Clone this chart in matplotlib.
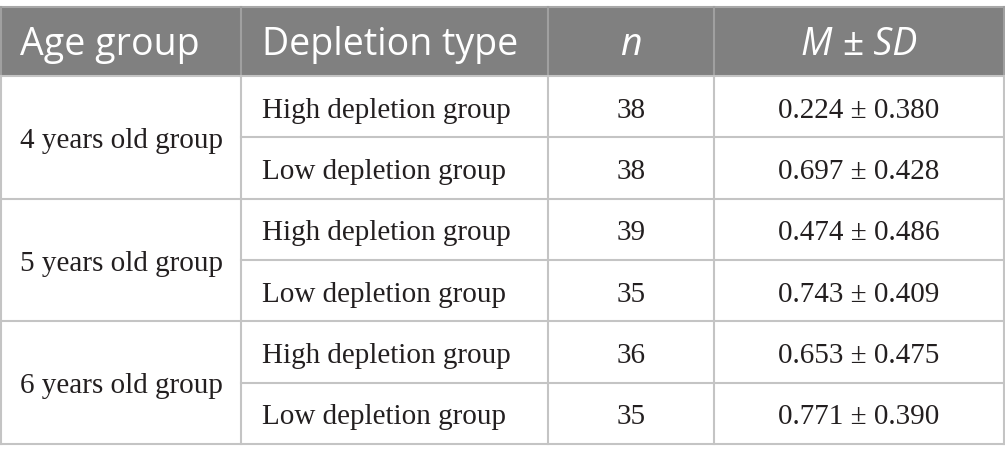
import matplotlib.pyplot as plt
from matplotlib.patches import Rectangle

# table contents
header = ["Age group", "Depletion type", "n", "M ± SD"]
age_groups = ["4 years old group", "5 years old group", "6 years old group"]
depletion_types = ["High depletion group", "Low depletion group"]
n_values = [38, 38, 39, 35, 36, 35]
means = [0.224, 0.697, 0.474, 0.743, 0.653, 0.771]
sds = [0.380, 0.428, 0.486, 0.409, 0.475, 0.390]

W, H = 1005, 464
fig = plt.figure(figsize=(W / 100, H / 100), dpi=100)
ax = fig.add_axes([0, 0, 1, 1])
ax.set_xlim(0, W)
ax.set_ylim(H, 0)
ax.axis('off')

# layout in pixels
col_x = [1, 241, 548, 714, 1004]
top, head_bot = 8, 77
row_h = 61.3
line_col = '#c4c4c4'
head_col = '#808080'

ax.add_patch(Rectangle((col_x[0], top), col_x[-1] - col_x[0], head_bot - top,
                       facecolor=head_col, edgecolor='none'))

hfont = dict(family='Open Sans', fontsize=27, color='white')
bfont = dict(family='Liberation Serif', fontsize=21, color='#231f20')

ax.text(20, 55, header[0], ha='left', va='baseline', **hfont)
ax.text(262, 55, header[1], ha='left', va='baseline', **hfont)
ax.text((col_x[2] + col_x[3]) / 2, 55, header[2], ha='center', va='baseline',
        style='italic', **hfont)
ax.text((col_x[3] + col_x[4]) / 2, 55, header[3], ha='center', va='baseline',
        style='italic', **hfont)

nrows = len(age_groups) * len(depletion_types)
bottom = head_bot + nrows * row_h

# body rows
for i in range(nrows):
    y0 = head_bot + i * row_h
    yc = y0 + row_h / 2
    ax.text(262, yc + 10, depletion_types[i % 2], ha='left', va='baseline', **bfont)
    ax.text((col_x[2] + col_x[3]) / 2, yc + 10, str(n_values[i]), ha='center',
            va='baseline', **bfont)
    ax.text((col_x[3] + col_x[4]) / 2, yc + 10, f"{means[i]:.3f} ± {sds[i]:.3f}",
            ha='center', va='baseline', **bfont)
    # horizontal line under row (full width under group, partial otherwise)
    yl = y0 + row_h
    x_start = col_x[0] if i % 2 == 1 else col_x[1]
    ax.plot([x_start, col_x[-1]], [yl, yl], color=line_col, lw=1.5)

for g, name in enumerate(age_groups):
    yc = head_bot + (2 * g + 1) * row_h
    ax.text(20, yc + 10, name, ha='left', va='baseline', **bfont)

# outer / vertical lines
ax.plot([col_x[0], col_x[-1]], [top, top], color='#a8a8a8', lw=1.5)
ax.plot([col_x[0], col_x[-1]], [head_bot, head_bot], color=line_col, lw=1.5)
for k, x in enumerate(col_x):
    ax.plot([x, x], [top, head_bot], color='#a0a0a0', lw=1.5)
    ax.plot([x, x], [head_bot, bottom], color=line_col, lw=1.5)

fig.savefig('out.png', dpi=100)
